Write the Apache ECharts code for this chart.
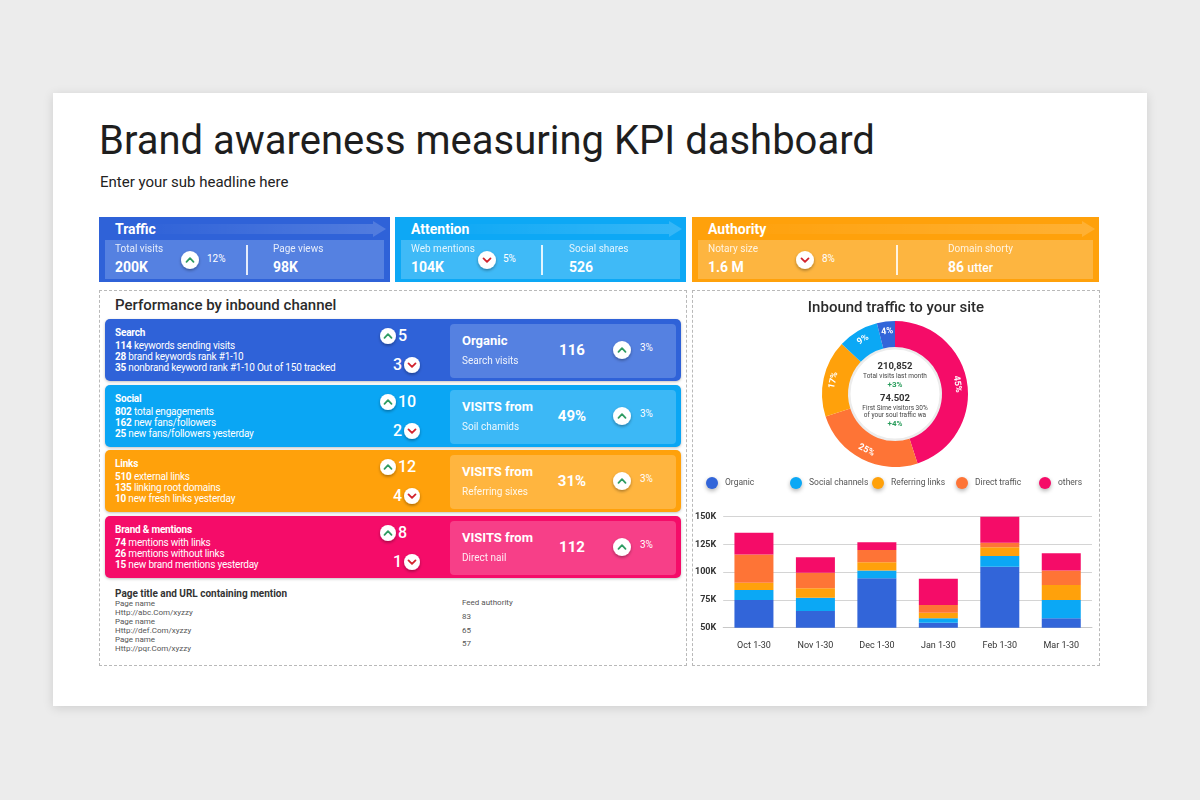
<!DOCTYPE html>
<html>
<head>
<meta charset="utf-8">
<script src="https://cdn.jsdelivr.net/npm/echarts@6/dist/echarts.min.js"></script>
<style>
  html, body { margin: 0; padding: 0; }
  body { width: 1200px; height: 800px; background: #ececec; position: relative; overflow: hidden; font-family: Roboto, "Noto Sans", sans-serif; }
  .abs { position: absolute; white-space: nowrap; }
  .dash { border: 1px dashed #b9b9b9; box-sizing: border-box; }
  #chart { position: absolute; left: 692px; top: 290px; width: 408px; height: 376px; }
</style>
</head>
<body>
<div class="abs" style="left:53px;top:93px;width:1094px;height:613px;background:#fff;box-shadow:0 2px 10px rgba(0,0,0,0.13);"></div>
<div class="abs dash" style="left:99px;top:290px;width:588px;height:376px;"></div>
<div class="abs dash" style="left:692px;top:290px;width:408px;height:376px;"></div>
<div id="chart"></div>
<script>
// kpi strip
const kpiTitles = ['Traffic', 'Attention', 'Authority'];
const kpiLabelA = ['Total visits', 'Web mentions', 'Notary size'];
const kpiValueA = ['200K', '104K', '1.6 M'];
const kpiChange = ['12%', '5%', '8%'];
const kpiUp = [true, false, false];
const kpiLabelB = ['Page views', 'Social shares', 'Domain shorty'];
const kpiValueB = ['98K', '526', '86'];
const kpiUnitB = ['', '', 'utter'];

// performance rows
const rowTitles = ['Search', 'Social', 'Links', 'Brand & mentions'];
const rowLines = [
  [['114', 'keywords sending visits'], ['28', 'brand keywords rank #1-10'], ['35', 'nonbrand keyword rank #1-10  Out of 150 tracked']],
  [['802', 'total engagements'], ['162', 'new fans/followers'], ['25', 'new fans/followers yesterday']],
  [['510', 'external links'], ['135', 'linking root domains'], ['10', 'new fresh  links yesterday']],
  [['74', 'mentions with links'], ['26', 'mentions without links'], ['15', 'new brand mentions yesterday']]
];
const rowUp = [5, 10, 12, 8];
const rowDown = [3, 2, 4, 1];
const panelTitles = ['Organic', 'VISITS from', 'VISITS from', 'VISITS from'];
const panelSubs = ['Search visits', 'Soil chamids', 'Referring sixes', 'Direct nail'];
const panelValues = ['116', '49%', '31%', '112'];
const panelChange = ['3%', '3%', '3%', '3%'];

// mentions table
const pageNames = ['Page name', 'Page name', 'Page name'];
const pageUrls = ['Http://abc.Com/xyzzy', 'Http://def.Com/xyzzy', 'Http://pqr.Com/xyzzy'];
const feedAuthority = [83, 65, 57];

// inbound traffic
const shareNames = ['others', 'Direct traffic', 'Referring links', 'Social channels', 'Organic'];
const shareValues = [45, 25, 17, 9, 4];
const legendNames = ['Organic', 'Social channels', 'Referring links', 'Direct traffic', 'others'];
const months = ['Oct 1-30', 'Nov 1-30', 'Dec 1-30', 'Jan 1-30', 'Feb 1-30', 'Mar 1-30'];
const organic = [75000, 65000, 94500, 54500, 105000, 58500];
const social = [9000, 12000, 7000, 4000, 9500, 16500];
const referring = [6500, 8500, 7500, 5000, 8000, 13500];
const direct = [25500, 14000, 11000, 7000, 4000, 13000];
const others = [19500, 14000, 7000, 23500, 23500, 15500];
const yTicks = [50000, 75000, 100000, 125000, 150000];

const colors = {
  'Organic': '#3265d9',
  'Social channels': '#0ba8f5',
  'Referring links': '#ffa10b',
  'Direct traffic': '#fe7436',
  'others': '#f50c68'
};

// ---------- helpers ----------
function box(x, y, w, h, css) {
  const d = document.createElement('div');
  d.className = 'abs';
  d.style.cssText += `left:${x}px;top:${y}px;width:${w}px;height:${h}px;` + (css || '');
  document.body.appendChild(d);
  return d;
}
// y is the vertical centre of the text
function text(x, y, size, str, opt) {
  opt = opt || {};
  const d = document.createElement('div');
  d.className = 'abs';
  const shift = opt.align === 'right' ? 'translateX(-100%)' : opt.align === 'center' ? 'translateX(-50%)' : 'none';
  d.style.cssText += `left:${x}px;top:${y - size * 0.6}px;font-size:${size}px;line-height:${size * 1.2}px;` +
    `color:${opt.color || '#fff'};font-weight:${opt.weight || 400};transform:${shift};` + (opt.css || '');
  d.innerHTML = str;
  document.body.appendChild(d);
  return d;
}
function chevron(cx, cy, r, up) {
  const s = r * 2 + 8;
  const c = up ? '#2f9c62' : '#d2232e';
  const p = up ? '-3.5,1.8 0,-1.8 3.5,1.8' : '-3.5,-1.6 0,1.9 3.5,-1.6';
  const d = box(cx - s / 2, cy - s / 2, s, s);
  d.innerHTML = `<svg width="${s}" height="${s}" viewBox="${-s / 2} ${-s / 2} ${s} ${s}">
    <defs><filter id="sh${cx}_${cy}" x="-50%" y="-50%" width="200%" height="200%">
    <feDropShadow dx="0" dy="1.5" stdDeviation="1.6" flood-color="#000" flood-opacity="0.35"/></filter></defs>
    <circle r="${r}" fill="#fff" filter="url(#sh${cx}_${cy})"/>
    <polyline points="${p}" fill="none" stroke="${c}" stroke-width="1.8" stroke-linecap="round" stroke-linejoin="round"/></svg>`;
}

// ---------- header ----------
text(99, 141, 40, 'Brand awareness measuring KPI dashboard', { color: '#1e1e1e' });
text(100, 182, 15, 'Enter your sub headline here', { color: '#222' });

// ---------- kpi cards ----------
const kpiBox = [
  { x: 99, w: 291, color: '#2f62d8', inner: '#5581e1', chev: 91, chg: 108, div: 147, b: 174 },
  { x: 395, w: 291, color: '#0da8f5', inner: '#3fbaf7', chev: 92, chg: 108, div: 146, b: 174 },
  { x: 692, w: 407, color: '#ffa10b', inner: '#fdb540', chev: 113, chg: 130, div: 204, b: 256 }
];
kpiBox.forEach((k, i) => {
  box(k.x, 217, k.w, 65, `background:${k.color};`);
  const band = box(k.x + 40, 221, k.w - 44, 16);
  const bw = k.w - 44;
  band.innerHTML = `<svg width="${bw}" height="16"><defs><linearGradient id="g${i}" x1="0" x2="1">
    <stop offset="0" stop-color="#fff" stop-opacity="0"/><stop offset="1" stop-color="#fff" stop-opacity="0.17"/></linearGradient></defs>
    <polygon points="0,3 ${bw - 13},3 ${bw - 13},0 ${bw},8 ${bw - 13},16 ${bw - 13},13 0,13" fill="url(#g${i})"/></svg>`;
  box(k.x + 6, 240, k.w - 12, 39, `background:${k.inner};`);
  text(k.x + 16, 229, 14, kpiTitles[i], { weight: 700 });
  text(k.x + 16, 249, 10, kpiLabelA[i], { css: 'opacity:0.85;' });
  text(k.x + 16, 267, 14, kpiValueA[i], { weight: 700 });
  chevron(k.x + k.chev, 260, 9, kpiUp[i]);
  text(k.x + k.chg, 259, 10, kpiChange[i]);
  box(k.x + k.div, 245, 1.5, 30, 'background:rgba(255,255,255,0.85);');
  text(k.x + k.b, 249, 10, kpiLabelB[i], { css: 'opacity:0.85;' });
  text(k.x + k.b, 267, 14, kpiValueB[i] + (kpiUnitB[i] ? ` <span style="font-weight:500;font-size:12px">${kpiUnitB[i]}</span>` : ''), { weight: 700 });
});

// ---------- performance rows ----------
text(115, 305, 15, 'Performance by inbound channel', { color: '#2b2b2b', weight: 500 });
const rowTops = [319, 385, 450, 516];
const rowColor = ['#2f62d8', '#0aa6f4', '#ffa10b', '#f50c69'];
const rowInner = ['#5581e1', '#3cb8f6', '#ffb53f', '#f73f88'];
rowTops.forEach((t, i) => {
  box(105, t, 576, 62, `background:${rowColor[i]};border-radius:5px;box-shadow:0 1px 3px rgba(0,0,0,0.25);`);
  box(450, t + 5, 226, 54, `background:${rowInner[i]};border-radius:4px;`);
  text(115, t + 14, 10, rowTitles[i], { weight: 700, css: 'letter-spacing:-0.2px;' });
  rowLines[i].forEach((ln, j) => {
    text(115, t + 26.5 + j * 11, 10, `<b>${ln[0]}</b> ${ln[1]}`, { css: 'letter-spacing:-0.2px;' });
  });
  chevron(388, t + 17, 8, true);
  text(398, t + 17, 16, String(rowUp[i]), { weight: 500 });
  text(402, t + 46, 16, String(rowDown[i]), { weight: 500, align: 'right' });
  chevron(412, t + 46, 8, false);
  text(462, t + 22, 13, panelTitles[i], { weight: 700 });
  text(462, t + 42, 10, panelSubs[i], { css: 'opacity:0.9;' });
  text(572, t + 31, 15, panelValues[i], { weight: 700, align: 'center' });
  chevron(622, t + 31, 9, true);
  text(640, t + 29, 10, panelChange[i]);
});

// ---------- mentions ----------
text(115, 594, 10, 'Page title and URL containing mention', { color: '#333', weight: 700 });
pageNames.forEach((n, i) => {
  text(115, 604 + i * 18, 8, n, { color: '#555' });
  text(115, 613 + i * 18, 8, pageUrls[i], { color: '#555' });
  text(462, 617 + i * 13.5, 8, String(feedAuthority[i]), { color: '#555' });
});
text(462, 603, 8, 'Feed authority', { color: '#555' });

// ---------- inbound traffic chart ----------
const chart = echarts.init(document.getElementById('chart'));
const barSeries = [
  ['Organic', organic], ['Social channels', social], ['Referring links', referring],
  ['Direct traffic', direct], ['others', others]
].map(([name, data]) => ({
  name: name,
  type: 'bar',
  stack: 'total',
  barWidth: 39,
  itemStyle: { color: colors[name] },
  data: data
}));

// one legend block per item so the items sit on an even pitch
const legendLeft = [9, 93, 175, 259, 342];
const legends = legendNames.map((n, i) => ({
  data: [n],
  left: legendLeft[i],
  top: 182,
  icon: 'circle',
  itemWidth: 12,
  itemHeight: 12,
  itemStyle: { shadowBlur: 4, shadowColor: 'rgba(0,0,0,0.3)', shadowOffsetY: 2 },
  textStyle: { fontSize: 8.5, color: '#555', padding: [0, 0, 0, 2] }
}));

chart.setOption({
  animation: false,
  textStyle: { fontFamily: 'Roboto' },
  title: {
    text: 'Inbound traffic to your site',
    left: 'center',
    top: 6,
    textStyle: { fontSize: 15, fontWeight: 500, color: '#2b2b2b' }
  },
  legend: legends,
  grid: { left: 31, right: 8, top: 226.7, bottom: 38.3 },
  xAxis: {
    type: 'category',
    data: months,
    axisTick: { show: false },
    axisLine: { lineStyle: { color: '#c8c8c8' } },
    axisLabel: { fontSize: 9, color: '#333', margin: 14 }
  },
  yAxis: {
    type: 'value',
    min: yTicks[0],
    max: yTicks[yTicks.length - 1],
    interval: 25000,
    axisLabel: { fontSize: 9, color: '#333', fontWeight: 700, margin: 7, formatter: v => v / 1000 + 'K' },
    splitLine: { lineStyle: { color: '#d4d4d4' } }
  },
  graphic: [
    { type: 'circle', shape: { cx: 203, cy: 104, r: 46 }, style: { fill: 'none', stroke: '#ececec', lineWidth: 3 } },
    { type: 'text', x: 203, y: 77, style: { text: '210,852', fill: '#333', font: 'bold 9.5px Roboto', align: 'center', verticalAlign: 'middle' } },
    { type: 'text', x: 203, y: 86, style: { text: 'Total visits last month', fill: '#444', font: '6.5px Roboto', align: 'center', verticalAlign: 'middle' } },
    { type: 'text', x: 203, y: 94.5, style: { text: '+3%', fill: '#2a9d5c', font: 'bold 8px Roboto', align: 'center', verticalAlign: 'middle' } },
    { type: 'text', x: 203, y: 109, style: { text: '74.502', fill: '#333', font: 'bold 9.5px Roboto', align: 'center', verticalAlign: 'middle' } },
    { type: 'text', x: 203, y: 118, style: { text: 'First Sime visitors 30%', fill: '#444', font: '6.5px Roboto', align: 'center', verticalAlign: 'middle' } },
    { type: 'text', x: 203, y: 125, style: { text: 'of your soul traffic wa', fill: '#444', font: '6.5px Roboto', align: 'center', verticalAlign: 'middle' } },
    { type: 'text', x: 203, y: 133.5, style: { text: '+4%', fill: '#2a9d5c', font: 'bold 8px Roboto', align: 'center', verticalAlign: 'middle' } }
  ],
  series: [
    {
      type: 'pie',
      center: [203, 104],
      radius: [47, 73],
      startAngle: 90,
      clockwise: true,
      label: {
        position: 'inside',
        rotate: 'tangential',
        formatter: '{c}%',
        color: '#fff',
        fontSize: 9,
        fontWeight: 700
      },
      labelLine: { show: false },
      emphasis: { disabled: true },
      data: shareNames.map((n, i) => ({ name: n, value: shareValues[i], itemStyle: { color: colors[n] } }))
    }
  ].concat(barSeries)
});
</script>
</body>
</html>
